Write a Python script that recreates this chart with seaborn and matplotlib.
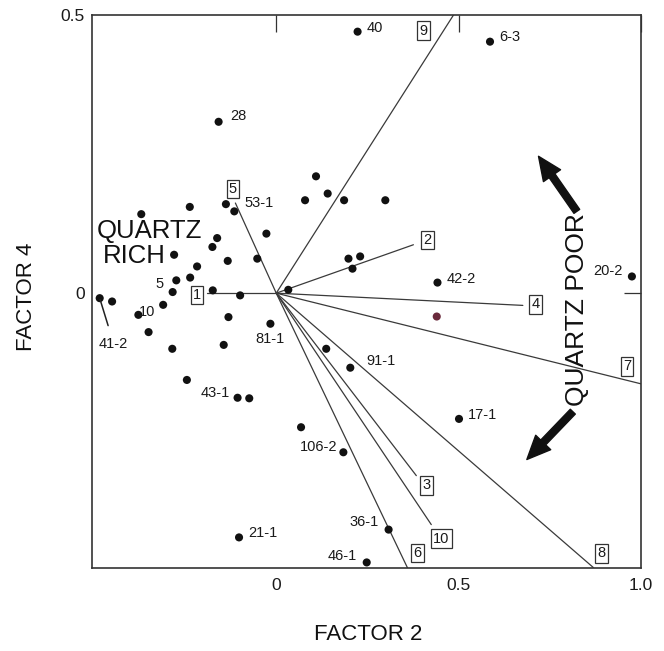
import pandas as pd
import matplotlib
matplotlib.use("Agg")
import matplotlib.pyplot as plt
import seaborn as sns

# sample scores (factor 2, factor 4)
f2 = [-0.158, 0.223, 0.586, 0.109, 0.079, 0.141, 0.186, 0.299, -0.370, -0.237,
      -0.138, -0.115, -0.162, -0.175, -0.027, -0.052, -0.133, -0.280, -0.217, -0.236,
      -0.274, -0.284, -0.174, -0.099, 0.033, 0.198, 0.230, 0.209, 0.442, 0.975,
      -0.484, -0.450, -0.310, -0.378, -0.350, -0.131, -0.016, -0.144, -0.285, -0.245,
      0.137, 0.203, -0.106, -0.074, 0.068, 0.184, -0.102, 0.501, 0.308, 0.248]
f4 = [0.308, 0.470, 0.452, 0.210, 0.167, 0.179, 0.167, 0.167, 0.142, 0.155,
      0.160, 0.147, 0.099, 0.083, 0.107, 0.062, 0.058, 0.069, 0.048, 0.028,
      0.023, 0.002, 0.005, -0.004, 0.006, 0.062, 0.066, 0.044, 0.019, 0.030,
      -0.009, -0.015, -0.021, -0.039, -0.070, -0.043, -0.055, -0.093, -0.100, -0.156,
      -0.100, -0.134, -0.188, -0.189, -0.241, -0.286, -0.439, -0.226, -0.425, -0.484]
names = ["28", "40", "6-3", "", "", "", "", "", "", "",
         "", "53-1", "", "", "", "", "", "", "", "",
         "", "5", "", "", "", "", "", "", "42-2", "20-2",
         "41-2", "", "10", "", "", "", "81-1", "", "", "",
         "", "91-1", "43-1", "", "", "106-2", "21-1", "17-1", "36-1", "46-1"]

# one sample printed in a different ink
odd_f2 = [0.440]
odd_f4 = [-0.042]

# variable loadings (end points of the vectors)
var_ids = ["1", "2", "3", "4", "5", "6", "7", "8", "9", "10"]
load_f2 = [-0.190, 0.376, 0.384, 0.676, -0.112, 0.360, 1.000, 0.869, 0.486, 0.425]
load_f4 = [0.000, 0.087, -0.328, -0.022, 0.162, -0.494, -0.163, -0.493, 0.500, -0.416]

df = pd.DataFrame({"f2": f2, "f4": f4, "name": names})

# label offsets in points (dx, dy, ha)
lab_off = {
    "28": (8.4, 4.0, "left"), "40": (6.8, 2.7, "left"), "6-3": (6.7, 3.1, "left"),
    "53-1": (7.2, 6.0, "left"), "42-2": (6.3, 2.4, "left"), "20-2": (-6.7, 3.6, "right"),
    "5": (-6.5, 5.5, "right"), "10": (-5.8, -4.8, "right"), "81-1": (0, -11.3, "center"),
    "91-1": (11.3, 4.5, "left"), "43-1": (-5.3, 3.4, "right"), "106-2": (-4.0, 3.9, "right"),
    "21-1": (6.9, 3.3, "left"), "36-1": (-7.2, 5.3, "right"), "46-1": (-6.8, 4.3, "right"),
    "17-1": (6.2, 2.9, "left"),
}
box_off = {
    "1": (-7.2, -1.2), "2": (10.1, 3.6), "3": (7.2, -7.0), "4": (9.1, 0.7),
    "5": (-1.9, 10.3), "6": (7.2, 10.8), "7": (-10.1, 12.5), "8": (6.0, 10.1),
    "9": (-21.6, -11.3), "10": (7.2, -10.1),
}

sns.set_style("white")
plain = ["Liberation Sans", "DejaVu Sans"]
plt.rcParams["font.family"] = plain
plt.rcParams["font.stretch"] = "condensed"

fig = plt.figure(figsize=(6.64, 6.51), dpi=100)
ax = fig.add_axes([0.1386, 0.1275, 0.8268, 0.8495])

# loading vectors
for vx, vy, vid in zip(load_f2, load_f4, var_ids):
    ax.plot([0, vx], [0, vy], color="#3a3a3a", lw=0.9, zorder=1)
    dx, dy = box_off[vid]
    ax.annotate(vid, (vx, vy), xytext=(dx, dy), textcoords="offset points",
                ha="center", va="center", fontsize=10.5, color="#1a1a1a",
                bbox=dict(boxstyle="square,pad=0.15", fc="white", ec="#333", lw=0.9),
                zorder=3)

sns.scatterplot(data=df, x="f2", y="f4", color="#111", s=34, edgecolor="none",
                ax=ax, zorder=2, legend=False)
sns.scatterplot(x=odd_f2, y=odd_f4, color="#6a2a3c", s=34, edgecolor="none",
                ax=ax, zorder=2, legend=False)

for _, r in df[df["name"] != ""].iterrows():
    if r["name"] == "41-2":
        ax.annotate("41-2", (r["f2"], r["f4"]), xytext=(10.1, -32.9),
                    textcoords="offset points", ha="center", va="center",
                    fontsize=10.5, color="#1a1a1a",
                    arrowprops=dict(arrowstyle="-", color="#222", lw=1.1,
                                    shrinkA=6, shrinkB=1))
        continue
    dx, dy, ha = lab_off[r["name"]]
    ax.annotate(r["name"], (r["f2"], r["f4"]), xytext=(dx, dy),
                textcoords="offset points", ha=ha, va="center",
                fontsize=10.5, color="#1a1a1a")

big = dict(family=plain, fontstretch="normal", color="#111")
ax.text(-0.491, 0.111, "QUARTZ", fontsize=18.5, ha="left", va="center", **big)
ax.text(-0.474, 0.066, "RICH", fontsize=18.5, ha="left", va="center", **big)
ax.text(0.825, -0.030, "QUARTZ POOR", fontsize=19, rotation=90,
        ha="center", va="center", **big)

arrow = dict(width=5, headwidth=15, headlength=17, color="#111", shrink=0)
ax.annotate("", xy=(0.719, 0.246), xytext=(0.824, 0.147), arrowprops=arrow)
ax.annotate("", xy=(0.687, -0.299), xytext=(0.813, -0.213), arrowprops=arrow)

ax.set_xlim(-0.505, 1.0)
ax.set_ylim(-0.494, 0.5)
ax.set_xticks([0, 0.5, 1.0])
ax.set_xticklabels(["0", "0.5", "1.0"])
ax.set_yticks([0, 0.5])
ax.set_yticklabels(["0", "0.5"])
ax.tick_params(direction="in", length=12, width=0.9, color="#333",
               top=True, right=True, labelsize=12.5, labelcolor="#1a1a1a")
ax.tick_params(axis="x", pad=7)
ax.tick_params(axis="y", pad=5)
ax.yaxis.get_major_ticks()[1].tick2line.set_visible(False)
ax.set_xlabel("")
ax.set_ylabel("")
for sp in ax.spines.values():
    sp.set_color("#333")
    sp.set_linewidth(1.2)

fig.text(368 / 664, 1 - 634 / 651, "FACTOR 2", fontsize=16, ha="center",
         va="center", **big)
fig.text(27 / 664, 1 - 297 / 651, "FACTOR 4", fontsize=16, ha="center",
         va="center", rotation=90, **big)

fig.savefig("out.png", dpi=100)
